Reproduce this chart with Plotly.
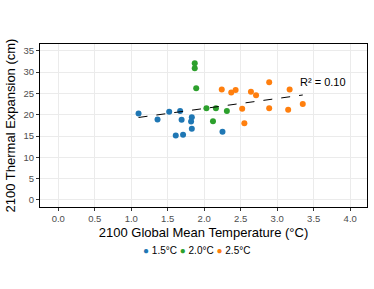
import numpy as np
import plotly.graph_objects as go

# 1.5°C scenario
t15 = [1.10, 1.36, 1.52, 1.67, 1.69, 1.61, 1.71, 1.83, 1.82, 1.83, 2.25]
e15 = [20.3, 18.9, 20.7, 20.9, 18.8, 15.1, 15.3, 19.4, 18.4, 16.7, 16.0]
# 2.0°C scenario
t20 = [1.87, 1.87, 1.89, 2.03, 2.16, 2.12, 2.31]
e20 = [32.1, 30.9, 26.2, 21.5, 21.5, 18.5, 20.9]
# 2.5°C scenario
t25 = [2.24, 2.37, 2.43, 2.52, 2.55, 2.64, 2.71, 2.89, 2.89, 3.17, 3.15, 3.35]
e25 = [25.9, 25.2, 25.8, 21.4, 18.0, 25.4, 24.6, 27.6, 21.5, 25.9, 21.2, 22.5]

names = ["1.5°C", "2.0°C", "2.5°C"]
colors = ["#1f77b4", "#2ca02c", "#ff7f0e"]
r2_label = "R² = 0.10"

x_ticks = [0.0, 0.5, 1.0, 1.5, 2.0, 2.5, 3.0, 3.5, 4.0]
y_ticks = [0, 5, 10, 15, 20, 25, 30, 35]

fig = go.Figure()
for t, e, n, c in zip([t15, t20, t25], [e15, e20, e25], names, colors):
    fig.add_trace(go.Scatter(x=t, y=e, mode="markers", name=n, showlegend=False,
                             marker=dict(color=c, size=6, line=dict(width=0))))

allx = np.array(t15 + t20 + t25)
ally = np.array(e15 + e20 + e25)
slope, icpt = np.polyfit(allx, ally, 1)
xs = np.array([allx.min(), allx.max()])
fig.add_trace(go.Scatter(x=xs, y=slope * xs + icpt, mode="lines", showlegend=False,
                         line=dict(color="black", width=1, dash="dash"), hoverinfo="skip"))

fig.add_annotation(x=3.29, y=27.8, text=r2_label, showarrow=False, xanchor="left",
                   yanchor="middle", font=dict(size=11, color="black"))

# compact horizontal legend below the plot
legend_text = " ".join(
    f"<span style='color:{c}'>●</span> {n}" for c, n in zip(colors, names)
)
fig.add_annotation(xref="paper", yref="paper", x=0.479, y=-0.267, text=legend_text,
                   showarrow=False, xanchor="center", yanchor="middle",
                   font=dict(size=10, color="black"))

axis_common = dict(showline=True, linecolor="black", linewidth=1, mirror=True,
                   ticks="outside", ticklen=3, tickcolor="#333333",
                   showgrid=True, gridcolor="#ebebeb", gridwidth=1, zeroline=False,
                   automargin=False,
                   tickfont=dict(size=9.5, color="#4d4d4d"))

fig.update_xaxes(range=[-0.25, 4.23], tickvals=x_ticks,
                 ticktext=[f"{v:.1f}" for v in x_ticks],
                 title=dict(text="2100 Global Mean Temperature (°C)", font=dict(size=13, color="black"), standoff=4),
                 **axis_common)
fig.update_yaxes(range=[-1.65, 36.6], tickvals=y_ticks,
                 title=dict(text="2100 Thermal Expansion (cm)", font=dict(size=13, color="black"), standoff=4),
                 **axis_common)

fig.update_layout(
    width=374, height=289,
    margin=dict(l=40, r=7, t=44, b=82),
    paper_bgcolor="white", plot_bgcolor="white",
    font=dict(family="Liberation Sans, Arial, sans-serif"),
    showlegend=False,
)

fig.write_html("out.html", config={"displayModeBar": False},
               post_script="document.body.style.margin='0';")
